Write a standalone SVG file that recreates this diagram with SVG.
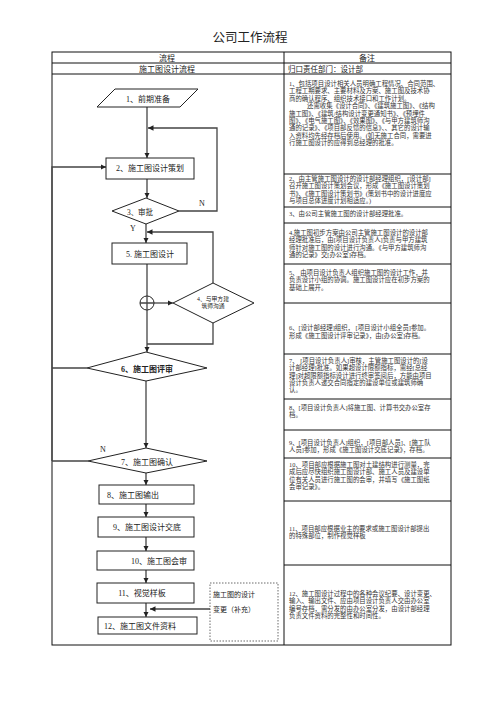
<svg xmlns="http://www.w3.org/2000/svg" width="496" height="702" viewBox="0 0 496 702">
<style>
text{font-family:"Liberation Serif","Noto Sans CJK SC",serif;fill:#222}
.t{font-size:12.5px;text-anchor:middle}
.h{font-size:8px;text-anchor:middle}
.hl{font-size:7.5px}
.n{font-size:8px;text-anchor:middle}
.nl{font-size:8px}
.r{font-size:6.4px;fill:#333}
.sh{fill:#fff;stroke:#222;stroke-width:1}
.tb{stroke:#111;stroke-width:1;fill:none}
.c{fill:none;stroke:#444;stroke-width:1.3}
.ca{fill:none;stroke:#444;stroke-width:1.3;marker-end:url(#a)}
</style>
<defs>
<marker id="a" viewBox="0 0 10 10" refX="10" refY="5" markerWidth="5.5" markerHeight="5.5" orient="auto" markerUnits="userSpaceOnUse"><path d="M0,0 L10,5 L0,10 z" fill="#222"/></marker>
</defs>
<rect width="496" height="702" fill="#fff"/>
<text class="t" x="250" y="42">公司工作流程</text>
<g id="table">
<rect class="tb" x="52" y="52" width="399" height="593"/>
<line class="tb" x1="52" y1="63" x2="451" y2="63"/>
<line class="tb" x1="52" y1="74" x2="451" y2="74"/>
<line class="tb" x1="284" y1="52" x2="284" y2="645" stroke-width="1.3"/>
<line class="tb" x1="284" y1="174" x2="451" y2="174"/>
<line class="tb" x1="284" y1="207" x2="451" y2="207"/>
<line class="tb" x1="284" y1="223" x2="451" y2="223"/>
<line class="tb" x1="284" y1="264" x2="451" y2="264"/>
<line class="tb" x1="284" y1="303" x2="451" y2="303"/>
<line class="tb" x1="284" y1="354" x2="451" y2="354"/>
<line class="tb" x1="284" y1="399" x2="451" y2="399"/>
<line class="tb" x1="284" y1="430" x2="451" y2="430"/>
<line class="tb" x1="284" y1="458" x2="451" y2="458"/>
<line class="tb" x1="284" y1="501" x2="451" y2="501"/>
<line class="tb" x1="284" y1="565" x2="451" y2="565"/>
<text class="h" x="167" y="60.5">流程</text>
<text class="h" x="367" y="60.5">备注</text>
<text class="h" x="167" y="71.5">施工图设计流程</text>
<text class="hl" x="288" y="71.5">归口责任部门：设计部</text>
</g>
<g id="notes">
<text class="r" x="289" y="86">1、包括项目设计相关人员明确工程情况、合同范围、</text>
<text class="r" x="289" y="93.3">工程工期要求、主要材料及方案、施工图及技术协</text>
<text class="r" x="289" y="100.6">商的确认程序、组织技术接口和工作计划。</text>
<text class="r" x="307" y="108.3">还需收集《设计合同》、《建筑施工图》、《结构</text>
<text class="r" x="289" y="115.6">施工图》、《建筑/结构设计变更通知书》、《预埋件</text>
<text class="r" x="289" y="123">图》、《电气施工图》、《效果图》、《与甲方建筑师沟</text>
<text class="r" x="289" y="130.3">通的记录》、《项目部反馈的信息》、、其它的设计输</text>
<text class="r" x="289" y="137.6">入资料均先经存档后使用。(如无施工合同，需要进</text>
<text class="r" x="289" y="145">行施工图设计的应得到总经理的批准。</text>
<text class="r" x="289" y="181">2、由主管施工图设计的设计部经理组织，[设计部]</text>
<text class="r" x="289" y="188.3">召开施工图设计策划会议，形成《施工图设计策划</text>
<text class="r" x="289" y="195.6">书》、《施工图设计策划书》(策划书中的设计进度应</text>
<text class="r" x="289" y="203">与项目总体进度计划相适应。)</text>
<text class="r" x="289" y="215.5">3、由公司主管施工图的设计部经理批准。</text>
<text class="r" x="289" y="235">4.施工图初步方案由公司主管施工图设计的设计部</text>
<text class="r" x="289" y="242.3">经理批准后，由[项目设计负责人]负责与甲方建筑</text>
<text class="r" x="289" y="249.6">师针对施工图的设计进行沟通。《与甲方建筑师沟</text>
<text class="r" x="289" y="257">通的记录》交[办公室]存档。</text>
<text class="r" x="289" y="275">5、   由项目设计负责人组织施工图的设计工作，并</text>
<text class="r" x="289" y="282.3">负责设计小组的协调。施工图设计应在初步方案的</text>
<text class="r" x="289" y="289.6">基础上展开。</text>
<text class="r" x="289" y="330">6、[设计部经理]组织，  [项目设计小组全员]参加。</text>
<text class="r" x="289" y="337.5">形成《施工图设计评审记录》，由[办公室]存档。</text>
<text class="r" x="289" y="363">7、  [项目设计负责人]审核，主管施工图设计的[设</text>
<text class="r" x="289" y="370.3">计部经理]批准。如果超设计限额指标，需经[总经</text>
<text class="r" x="289" y="377.6">理]对超限额指标设计进行终审签阅后，方能由项目</text>
<text class="r" x="289" y="385">设计负责人递交合同指定的建设单位或建筑师确</text>
<text class="r" x="289" y="392.3">认。</text>
<text class="r" x="289" y="410">8、[项目设计负责人]将施工图、计算书交办公室存</text>
<text class="r" x="289" y="417.3">档。</text>
<text class="r" x="289" y="444.5">9、[项目设计负责人]组织，[项目部人员]、[施工队</text>
<text class="r" x="289" y="452">人员]参加，形成《施工图设计交底记录》，存档。</text>
<text class="r" x="289" y="467">10、项目部应根据施工图对土建结构进行测量，完</text>
<text class="r" x="289" y="474.3">成后应尽快组织施工图设计部、施工人员及建设单</text>
<text class="r" x="289" y="481.6">位有关人员进行施工图的会审，并填写《施工图纸</text>
<text class="r" x="289" y="489">会审记录》。</text>
<text class="r" x="289" y="531">11、项目部应根据业主的要求或施工图设计部提出</text>
<text class="r" x="289" y="538.3">的特殊部位，制作视觉样板</text>
<text class="r" x="289" y="596">12、施工图设计过程中的各种会议纪要、设计变更、</text>
<text class="r" x="289" y="603.3">输入、输出文件、应由项目设计负责人交由办公室</text>
<text class="r" x="289" y="610.6">编号存档，需分发的由办公室分发，由设计部经理</text>
<text class="r" x="289" y="618">负责文件资料的完整性和时间性。</text>
</g>
<g id="connectors">
<path class="ca" d="M147,107 V158"/>
<path class="ca" d="M179,211 H217 V128 H148"/>
<path class="ca" d="M147,179 V198"/>
<path class="ca" d="M146,224 V243"/>
<path class="ca" d="M213,283 V232 H147"/>
<path class="c" d="M147,264 V296"/>
<path class="ca" d="M147,310 V352"/>
<path class="ca" d="M154,303 H173"/>
<path class="c" d="M213,323 V344 H147"/>
<path class="ca" d="M146,381 V448"/>
<path class="c" d="M87,368 H52"/>
<path class="c" d="M88,461 H52"/>
<path class="ca" d="M52,461 V167 H106"/>
<path class="ca" d="M146,473 V485"/>
<path class="ca" d="M146,504 V517"/>
<path class="ca" d="M146,537 V551"/>
<path class="ca" d="M146,570 V583"/>
<path class="ca" d="M146,603 V617"/>
<path class="ca" d="M210,609 H150"/>
<text class="n" x="202" y="206">N</text>
<text class="n" x="133" y="231">Y</text>
<text class="n" x="103" y="452">N</text>
</g>
<g id="n1"><path class="sh" d="M115,89 H198 L180,107 H97 Z"/><text class="n" x="148" y="102">1、前期准备</text></g>
<g id="n2"><rect class="sh" x="106" y="158" width="88" height="21"/><text class="n" x="150" y="171">2、施工图设计策划</text></g>
<g id="n3"><path class="sh" d="M146,198 L179,211 L146,224 L112,211 Z"/><text class="n" x="140" y="214.5" style="font-size:7.5px">3、审批</text></g>
<g id="n5"><rect class="sh" x="112" y="243" width="75" height="21"/><text class="n" x="150" y="256.5">5. 施工图设计</text></g>
<g id="n4c"><circle class="sh" cx="147" cy="303" r="7"/><path class="c" d="M140,303 H154 M147,296 V310" stroke="#222" stroke-width="1"/></g>
<g id="n4"><path class="sh" d="M213,283 L254,303 L213,323 L173,303 Z"/><text class="n" x="213" y="301" style="font-size:5.8px">4、与甲方建</text><text class="n" x="213" y="307.5" style="font-size:5.8px">筑师沟通</text></g>
<g id="n6"><path class="sh" d="M146,352 L207,368 L146,381 L87,368 Z"/><text class="n" x="147" y="372" font-weight="bold">6、施工图评审</text></g>
<g id="n7"><path class="sh" d="M146,448 L207,461 L146,473 L88,461 Z"/><text class="n" x="147" y="465">7、施工图确认</text></g>
<g id="n8"><rect class="sh" x="99" y="485" width="95" height="19"/><text class="nl" x="107" y="497.5">8、施工图输出</text></g>
<g id="n9"><rect class="sh" x="98" y="517" width="96" height="20"/><text class="n" x="147" y="530">9、施工图设计交底</text></g>
<g id="n10"><rect class="sh" x="97" y="551" width="97" height="19"/><text class="n" x="159" y="563.5">10、施工图会审</text></g>
<g id="n11"><rect class="sh" x="97" y="583" width="97" height="20"/><text class="n" x="142" y="596">11、视觉样板</text></g>
<g id="n12"><rect class="sh" x="98" y="617" width="99" height="17"/><text class="nl" x="104" y="628.5">12、施工图文件资料</text></g>
<g id="n13"><rect x="210" y="583" width="68" height="58" fill="#fff" stroke="#444" stroke-width="0.8" stroke-dasharray="1.5,1.5"/><text x="213" y="597" style="font-size:7px">施工图的设计</text><text x="213" y="612" style="font-size:7px">变更（补充）</text></g>
</svg>
